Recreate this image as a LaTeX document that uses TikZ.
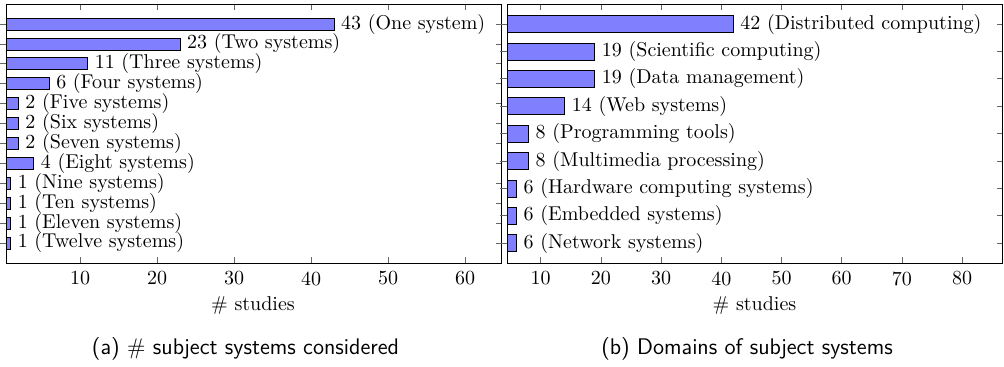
\documentclass[tikz,border=0pt]{standalone}
\begin{document}
\begin{tikzpicture}[x=0.5pt, y=-0.5pt,
	bar/.style={draw=black, fill=blue!50},
	tick/.style={black!60},
	barlabel/.style={anchor=west},
	caption/.style={font=\sffamily\fontsize{11.3pt}{13pt}\selectfont}]
	\useasboundingbox (0,0) rectangle (1004,366);
	% (a) number of subject systems
	\foreach \v in {10,20,...,60}{
			\draw[tick] ({3+7.7*\v},4) -- ++(0,6) ({3+7.7*\v},263) -- ++(0,-6);
			\node (ta\v) at ({3+7.7*\v},278.5) {\v};
		}
	\foreach \val/\lbl [count=\i from 0] in {43/One system, 23/Two systems, 11/Three systems, 6/Four systems, 2/Five systems, 2/Six systems, 2/Seven systems, 4/Eight systems, 1/Nine systems, 1/Ten systems, 1/Eleven systems, 1/Twelve systems}{
			\draw[tick] (0,{24+19.9*\i}) -- ++(6,0) (501,{24+19.9*\i}) -- ++(-5,0);
			\draw[bar] (6,{18+19.9*\i}) rectangle ({3+7.7*\val},{30+19.9*\i});
			\node[barlabel] (la\i) at ({3+7.7*\val},{24+19.9*\i}) {\val{} (\lbl)};
		}
	\draw (6,4) rectangle (501,263);
	\node (xla) at (253,305.5) {\# studies};
	\node[caption] (capa) at (245.5,349) {(a) \# subject systems considered};
	% (b) domains
	\foreach \v in {10,20,...,80}{
			\draw[tick] ({480.5+6.02*\v},4) -- ++(0,6) ({480.5+6.02*\v},263) -- ++(0,-6);
			\node (tb\v) at ({480.5+6.02*\v},278.5) {\v};
		}
	\foreach \val/\lbl [count=\i from 0] in {42/Distributed computing, 19/Scientific computing, 19/Data management, 14/Web systems, 8/Programming tools, 8/Multimedia processing, 6/Hardware computing systems, 6/Embedded systems, 6/Network systems}{
			\draw[tick] (500,{24+27.4*\i}) -- ++(7,0) (1002,{24+27.4*\i}) -- ++(-5,0);
			\draw[bar] (507,{15.5+27.4*\i}) rectangle ({480.5+6.02*\val},{32.5+27.4*\i});
			\node[barlabel] (lb\i) at ({480.5+6.02*\val},{24+27.4*\i}) {\val{} (\lbl)};
		}
	\draw (507,4) rectangle (1002,263);
	\node (xlb) at (754.5,305.5) {\# studies};
	\node[caption] (capb) at (747,349) {(b) Domains of subject systems};
\end{tikzpicture}
\end{document}
